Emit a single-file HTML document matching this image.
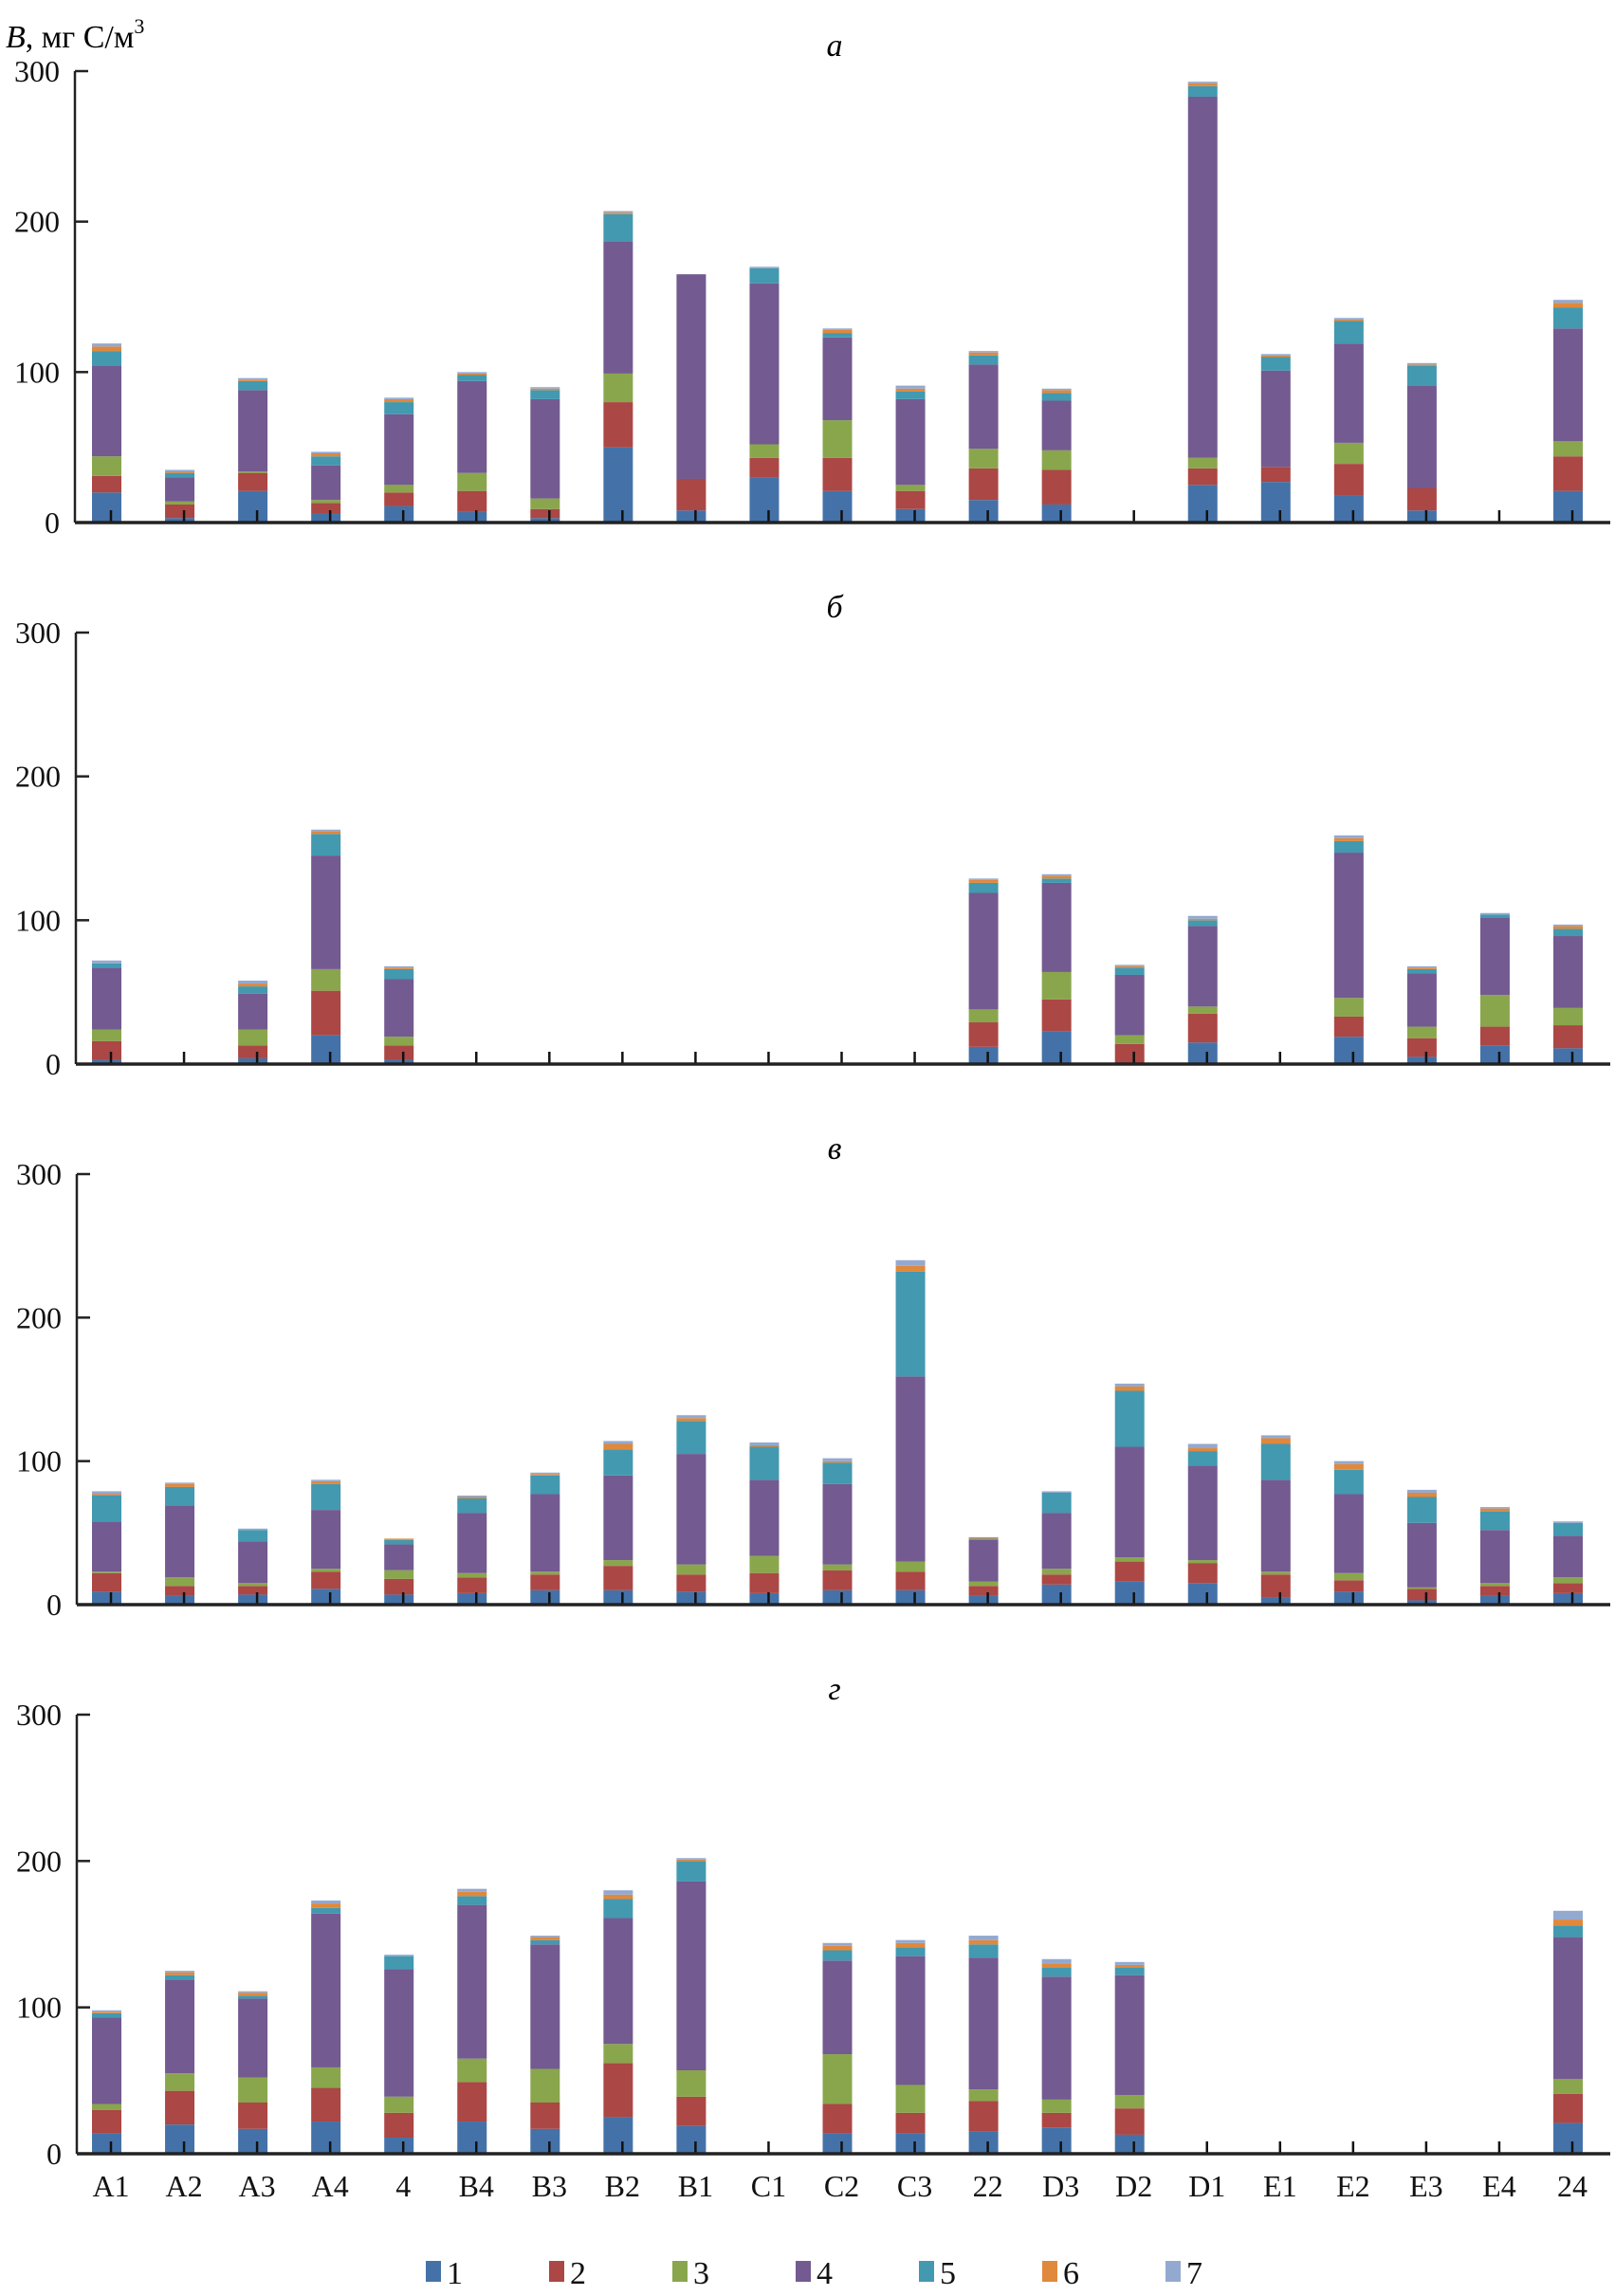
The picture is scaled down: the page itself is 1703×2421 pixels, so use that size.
<!DOCTYPE html>
<html><head><meta charset="utf-8"><style>
body{margin:0;background:#fff}
svg{display:block;font-family:"Liberation Serif",serif}
</style></head><body>
<svg id="chart" width="1703" height="2421" viewBox="0 0 1703 2421" xmlns="http://www.w3.org/2000/svg">
<text x="6" y="50" font-size="34"><tspan font-style="italic">B</tspan>, мг С/м<tspan font-size="22" dy="-15">3</tspan></text>
</svg>
<script>
const categories=["A1","A2","A3","A4","4","B4","B3","B2","B1","C1","C2","C3","22","D3","D2","D1","E1","E2","E3","E4","24"];
const seriesNames=["1","2","3","4","5","6","7"];
const seriesColors=["#4472a8","#ab4745","#89a64c","#735a90","#4299b0","#e0883c","#93a9d0"];
const yTicks=[0,100,200,300];
const panelLetters=["а","б","в","г"];
// cumulative stacked tops per category (series 1..7)
const panelA=[[20,31,44,104,114,117,119],[3,12,14,30,33,34,35],[21,33,34,88,94,95,96],[6,13,15,38,44,46,47],[11,20,25,72,80,82,83],[7,21,33,94,98,99,100],[3,9,16,82,88,89,90],[50,80,99,187,205,206,207],[8,29,29,165,165,165,165],[30,43,52,159,169,169,170],[21,43,68,123,126,128,129],[9,21,25,82,87,89,91],[15,36,49,105,111,113,114],[12,35,48,81,86,88,89],[0,0,0,0,0,0,0],[25,36,43,283,290,292,293],[27,37,37,101,110,111,112],[18,39,53,119,134,135,136],[8,23,23,91,104,105,106],[0,0,0,0,0,0,0],[21,44,54,129,143,146,148]];
const panelB=[[3,16,24,67,70,70,72],[0,0,0,0,0,0,0],[4,13,24,49,54,56,58],[20,51,66,145,160,162,163],[3,13,19,59,66,67,68],[0,0,0,0,0,0,0],[0,0,0,0,0,0,0],[0,0,0,0,0,0,0],[0,0,0,0,0,0,0],[0,0,0,0,0,0,0],[0,0,0,0,0,0,0],[0,0,0,0,0,0,0],[12,29,38,119,126,128,129],[23,45,64,126,129,131,132],[1,14,20,62,67,68,69],[15,35,40,96,100,101,103],[0,0,0,0,0,0,0],[19,33,46,147,155,157,159],[5,18,26,63,66,67,68],[13,26,48,102,104,104,105],[11,27,39,89,94,96,97]];
const panelC=[[9,22,23,58,76,77,79],[6,13,19,69,82,84,85],[7,13,15,44,52,52,53],[11,23,25,66,84,86,87],[7,18,24,42,45,46,46],[8,19,22,64,74,75,76],[10,21,23,77,90,91,92],[10,27,31,90,108,112,114],[9,21,28,105,128,130,132],[8,22,34,87,110,111,113],[10,24,28,84,99,100,102],[10,23,30,159,232,236,240],[6,13,16,45,46,47,47],[14,21,25,64,78,78,79],[16,30,33,110,149,152,154],[15,29,31,97,107,109,112],[5,21,23,87,112,116,118],[9,17,22,77,94,98,100],[3,11,12,57,75,78,80],[6,13,15,52,65,67,68],[8,15,19,48,57,57,58]];
const panelD=[[14,30,34,93,96,97,98],[20,43,55,119,122,124,125],[17,35,52,106,108,110,111],[22,45,59,164,168,171,173],[11,28,39,126,135,135,136],[22,49,65,170,176,179,181],[17,35,58,143,146,148,149],[25,62,75,161,174,177,180],[19,39,57,186,200,201,202],[0,0,0,0,0,0,0],[14,34,68,132,139,142,144],[14,28,47,135,141,144,146],[15,36,44,134,143,146,149],[18,28,37,121,127,130,133],[13,31,40,122,127,129,131],[0,0,0,0,0,0,0],[0,0,0,0,0,0,0],[0,0,0,0,0,0,0],[0,0,0,0,0,0,0],[0,0,0,0,0,0,0],[21,41,51,148,156,160,166]];
const panels=[panelA,panelB,panelC,panelD];
const layout=[{top:75,bottom:551,ax:79},{top:667,bottom:1122,ax:80},{top:1238,bottom:1692,ax:81},{top:1808,bottom:2271,ax:81}];
const NS="http://www.w3.org/2000/svg";
const svg=document.getElementById('chart');
function mk(t,a,p){const e=document.createElementNS(NS,t);for(const k in a)e.setAttribute(k,a[k]);(p||svg).appendChild(e);return e;}
const xPos=i=>117+i*77.05;
panels.forEach((data,pi)=>{
  const L=layout[pi];
  const y=v=>L.bottom-(v/300)*(L.bottom-L.top);
  const g=mk('g',{});
  
  
  const lt=mk('text',{x:880,y:L.top-16,'font-size':34,'font-style':'italic','text-anchor':'middle'},g);
  
  
  lt.textContent=panelLetters[pi];
  data.forEach((cum,ci)=>{
    const cx=xPos(ci);let prev=0;
    cum.forEach((top,si)=>{
      if(top>prev){
        const r=mk('rect',{x:cx-20,y:y(top),width:31,height:y(prev)-y(top),fill:seriesColors[si]},g);
        
        
      }
      prev=Math.max(prev,top);
    });
    const tk=mk('line',{x1:cx,x2:cx,y1:L.bottom,y2:L.bottom-13,stroke:'#111','stroke-width':2.5},g);
    
    
  });
  const ya=mk('line',{x1:L.ax,x2:L.ax,y1:L.top,y2:L.bottom,stroke:'#222','stroke-width':2.5},g);
  
  
  const xa=mk('line',{x1:L.ax,x2:1698,y1:L.bottom,y2:L.bottom,stroke:'#222','stroke-width':3.5},g);
  
  
  yTicks.forEach(v=>{
    const t=mk('line',{x1:L.ax,x2:L.ax+14,y1:y(v),y2:y(v),stroke:'#222','stroke-width':2.5},g);
    
    
    const tx=mk('text',{x:L.ax-16,y:y(v)+11,'font-size':32,'text-anchor':'end',fill:'#111'},g);
    
    
    tx.textContent=v;
  });
  if(pi===3){
    categories.forEach((c,ci)=>{
      const tx=mk('text',{x:xPos(ci),y:2316,'font-size':32,'text-anchor':'middle',fill:'#111'},g);
      
      
      tx.textContent=c;
    });
  }
});
seriesNames.forEach((n,i)=>{
  const x=449+i*130;
  const r=mk('rect',{x:x,y:2384,width:16,height:22,fill:seriesColors[i]});
  
  
  const t=mk('text',{x:x+22,y:2408,'font-size':34,fill:'#111'});
  
  
  t.textContent=n;
});
</script>
</body></html>
